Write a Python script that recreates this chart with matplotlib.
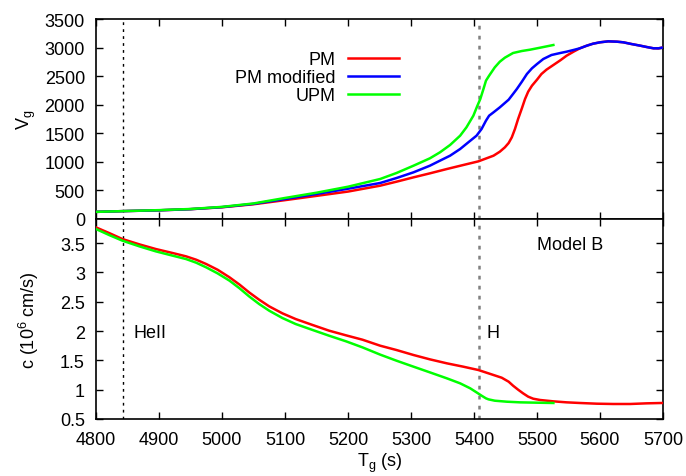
import matplotlib
matplotlib.use("Agg")
import matplotlib.pyplot as plt

plt.rcParams['font.family'] = ['Liberation Sans', 'DejaVu Sans']
plt.rcParams['mathtext.fontset'] = 'custom'
plt.rcParams['mathtext.rm'] = 'Liberation Sans'

# ---- data: group velocity V_g (top panel) ----
t_pm = [4800, 4850, 4900, 4950, 5000, 5050, 5100, 5150, 5200, 5251, 5277, 5304,
        5330, 5357, 5383, 5407, 5431, 5441, 5449, 5455, 5460, 5465, 5470, 5476,
        5481, 5486, 5492, 5500, 5507, 5515, 5526, 5537, 5547, 5558, 5568, 5579,
        5589, 5600, 5613, 5627, 5637, 5650, 5664, 5674, 5685, 5693, 5698]
v_pm = [125, 140, 152, 172, 205, 258, 330, 405, 480, 583, 653, 729,
        799, 875, 945, 1009, 1108, 1178, 1254, 1330, 1429, 1575, 1750, 1937,
        2100, 2228, 2333, 2438, 2537, 2613, 2695, 2777, 2858, 2928, 2987, 3033,
        3068, 3092, 3109, 3103, 3092, 3062, 3033, 3010, 2987, 2987, 2998]

t_pmm = [4800, 4850, 4900, 4950, 5000, 5050, 5100, 5150, 5200, 5251, 5277, 5304,
         5330, 5346, 5362, 5378, 5391, 5404, 5412, 5419, 5424, 5431, 5441, 5455,
         5462, 5468, 5476, 5484, 5492, 5500, 5510, 5523, 5537, 5547, 5558, 5568,
         5579, 5589, 5600, 5613, 5627, 5637, 5650, 5664, 5674, 5685, 5693, 5698]
v_pmm = [125, 140, 152, 172, 208, 265, 350, 438, 530, 630, 717, 817,
         933, 1021, 1108, 1225, 1342, 1458, 1575, 1721, 1808, 1867, 1954, 2088,
         2188, 2275, 2403, 2538, 2637, 2712, 2800, 2870, 2905, 2928, 2958, 2987,
         3033, 3068, 3092, 3109, 3103, 3092, 3062, 3033, 3010, 2987, 2987, 2998]

t_upm = [4800, 4850, 4900, 4950, 5000, 5050, 5100, 5150, 5200, 5251, 5277, 5304,
         5330, 5346, 5362, 5378, 5388, 5399, 5405, 5410, 5415, 5419, 5424, 5433,
         5441, 5449, 5462, 5476, 5489, 5505, 5526]
v_upm = [125, 140, 155, 175, 212, 272, 368, 460, 565, 700, 805, 933,
         1062, 1167, 1295, 1458, 1604, 1808, 1972, 2100, 2275, 2421, 2508, 2654,
         2753, 2823, 2905, 2940, 2963, 2998, 3045]

# ---- data: sound speed c (bottom panel, 10^6 cm/s) ----
tc_pm = [4800, 4821, 4842, 4869, 4895, 4922, 4943, 4959, 4975, 4993, 5012, 5028,
         5043, 5059, 5075, 5096, 5117, 5144, 5170, 5197, 5223, 5251, 5277, 5304,
         5330, 5357, 5383, 5407, 5431, 5444, 5455, 5462, 5470, 5478, 5486, 5494,
         5505, 5526, 5547, 5568, 5595, 5621, 5648, 5674, 5698]
c_pm = [3.767, 3.670, 3.568, 3.477, 3.398, 3.329, 3.273, 3.216, 3.142, 3.045, 2.915, 2.790,
        2.659, 2.534, 2.420, 2.301, 2.204, 2.102, 2.006, 1.926, 1.852, 1.750, 1.676, 1.591,
        1.517, 1.449, 1.392, 1.335, 1.250, 1.204, 1.136, 1.068, 1.000, 0.937, 0.881, 0.846,
        0.824, 0.801, 0.784, 0.773, 0.761, 0.756, 0.756, 0.767, 0.773]

tc_upm = [4800, 4821, 4842, 4869, 4895, 4922, 4943, 4959, 4975, 4993, 5012, 5028,
          5043, 5059, 5075, 5096, 5117, 5144, 5170, 5197, 5223, 5251, 5277, 5304,
          5330, 5357, 5378, 5394, 5404, 5412, 5419, 5423, 5433, 5452, 5473, 5500, 5526]
c_upm = [3.739, 3.636, 3.540, 3.443, 3.358, 3.284, 3.227, 3.165, 3.085, 2.983, 2.858, 2.727,
         2.591, 2.460, 2.346, 2.221, 2.119, 2.017, 1.920, 1.824, 1.721, 1.598, 1.494, 1.392,
         1.295, 1.193, 1.108, 1.023, 0.954, 0.898, 0.852, 0.835, 0.812, 0.795, 0.784, 0.778, 0.773]

t_heii = 4843
t_h = 5408

xticks = [4800, 4900, 5000, 5100, 5200, 5300, 5400, 5500, 5600, 5700]
yticks_top = [0, 500, 1000, 1500, 2000, 2500, 3000, 3500]
yticks_bot = [0.5, 1, 1.5, 2, 2.5, 3, 3.5]

W, H = 686, 477
fig = plt.figure(figsize=(W / 100, H / 100), dpi=100)
left, right = 96, 663
ax1 = fig.add_axes([left / W, 1 - 220 / H, (right - left) / W, 200 / H])
ax2 = fig.add_axes([left / W, 1 - 420 / H, (right - left) / W, 200 / H])

fs = 13
for ax in (ax1, ax2):
    ax.tick_params(direction='in', length=5, width=1, top=True, right=True,
                   labelsize=fs)
    ax.tick_params(axis='y', pad=8)
    ax.tick_params(axis='x', pad=9)
    for s in ax.spines.values():
        s.set_linewidth(1.2)
    ax.set_xlim(4800, 5700)
    ax.set_xticks(xticks)
    ax.axvline(t_heii, color='black', ls=(0, (2, 3)), lw=1)
    ax.axvline(t_h, color='#808080', ls=(0, (1.5, 2.5)), lw=1.8)

lw = 1.8
ax1.plot(t_pm, v_pm, color='#ff0000', lw=lw, label='PM', zorder=3)
ax1.plot(t_pmm, v_pmm, color='#0000ff', lw=lw, label='PM modified', zorder=3)
ax1.plot(t_upm, v_upm, color='#00ff00', lw=lw, label='UPM', zorder=3)
ax1.set_ylim(0, 3500)
ax1.set_yticks(yticks_top)
ax1.tick_params(labelbottom=False)
ax1.set_ylabel(r'V$_\mathregular{g}$', fontsize=fs)
ax1.yaxis.set_label_coords(-0.103, 0.5)

ax1.legend(loc='upper right', bbox_to_anchor=(399 / W, 1 - 52 / H),
           bbox_transform=fig.transFigure, frameon=False, markerfirst=False,
           fontsize=fs, handlelength=2.85, handletextpad=0.65, labelspacing=0.06,
           borderpad=0, borderaxespad=0)

ax2.plot(tc_pm, c_pm, color='#ff0000', lw=lw, zorder=3)
ax2.plot(tc_upm, c_upm, color='#00ff00', lw=lw, zorder=3)
ax2.set_ylim(0.5, 3.91)
ax2.set_yticks(yticks_bot)
ax2.set_yticklabels(['0.5', '1', '1.5', '2', '2.5', '3', '3.5'])
ax2.set_ylabel(r'c (10$^\mathregular{6}$ cm/s)', fontsize=fs)
ax2.yaxis.set_label_coords(-0.097, 0.5)
ax2.set_xlabel(r'T$_\mathregular{g}$ (s)', fontsize=fs, labelpad=2)

ax2.text(4860, 1.97, 'HeII', fontsize=fs, va='center', ha='left')
ax2.text(5420, 1.97, 'H', fontsize=fs, va='center', ha='left')
ax2.text(5500, 3.47, 'Model B', fontsize=fs, va='center', ha='left')

fig.savefig('out.png', dpi=100)
